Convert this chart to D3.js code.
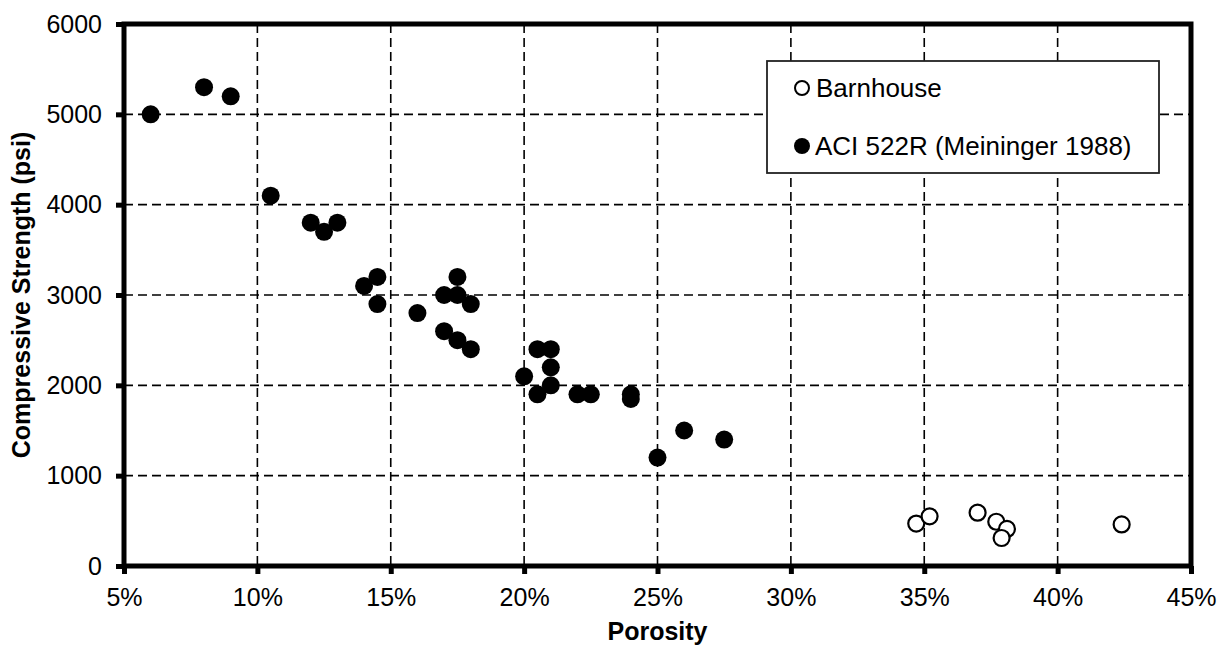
<!DOCTYPE html>
<html>
<head>
<meta charset="utf-8">
<script src="https://cdn.jsdelivr.net/npm/d3@7"></script>
<style>
  body { margin: 0; background: #fff; }
  svg { display: block; font-family: "Liberation Sans", Arial, sans-serif; }
</style>
</head>
<body>
<svg id="chart" width="1223" height="647"></svg>
<script>
// ---- Data ----
const xTicks = [0.05, 0.10, 0.15, 0.20, 0.25, 0.30, 0.35, 0.40, 0.45];
const yTicks = [0, 1000, 2000, 3000, 4000, 5000, 6000];

const barnhousePorosity = [0.347, 0.352, 0.370, 0.377, 0.381, 0.379, 0.424];
const barnhouseStrength = [470, 550, 590, 490, 410, 310, 460];

const aciPorosity = [0.06, 0.08, 0.09, 0.105, 0.12, 0.125, 0.13, 0.14, 0.145, 0.145,
                     0.16, 0.17, 0.175, 0.175, 0.18, 0.17, 0.175, 0.18, 0.20, 0.205,
                     0.21, 0.21, 0.21, 0.205, 0.22, 0.225, 0.24, 0.24, 0.25, 0.26, 0.275];
const aciStrength = [5000, 5300, 5200, 4100, 3800, 3700, 3800, 3100, 3200, 2900,
                     2800, 3000, 3200, 3000, 2900, 2600, 2500, 2400, 2100, 2400,
                     2400, 2200, 2000, 1900, 1900, 1900, 1900, 1850, 1200, 1500, 1400];

const seriesNames = ["Barnhouse", "ACI 522R (Meininger 1988)"];

// ---- Layout ----
const svg = d3.select("#chart");
const L = 124, R = 1191, T = 24, B = 566;

const x = d3.scaleLinear().domain([0.05, 0.45]).range([L, R]);
const y = d3.scaleLinear().domain([0, 6000]).range([B, T]);

// gridlines
const grid = svg.append("g");
grid.selectAll("line.v").data(xTicks.slice(1, -1)).join("line")
  .attr("x1", d => x(d)).attr("x2", d => x(d)).attr("y1", T).attr("y2", B)
  .attr("stroke", "#000").attr("stroke-width", 1.6).attr("stroke-dasharray", "9,5");
grid.selectAll("line.h").data(yTicks.slice(1, -1)).join("line")
  .attr("y1", d => y(d)).attr("y2", d => y(d)).attr("x1", L).attr("x2", R)
  .attr("stroke", "#000").attr("stroke-width", 1.6).attr("stroke-dasharray", "9,5");

// axes
const xAxis = d3.axisBottom(x).tickValues(xTicks).tickFormat(d3.format(".0%"))
  .tickSize(8).tickPadding(14);
const yAxis = d3.axisLeft(y).tickValues(yTicks).tickFormat(d3.format("d"))
  .tickSize(8).tickPadding(14);

const gx = svg.append("g").attr("transform", `translate(0,${B})`).call(xAxis);
const gy = svg.append("g").attr("transform", `translate(${L},0)`).call(yAxis);
[gx, gy].forEach(g => {
  g.select(".domain").remove();
  g.selectAll(".tick line").attr("stroke", "#000").attr("stroke-width", 5);
  g.selectAll(".tick text").attr("fill", "#000").attr("font-size", 25)
    .attr("font-family", "Liberation Sans, Arial, sans-serif");
});

// frame
svg.append("rect").attr("x", L).attr("y", T).attr("width", R - L).attr("height", B - T)
  .attr("fill", "none").attr("stroke", "#000").attr("stroke-width", 5);

// points
svg.append("g").selectAll("circle").data(aciPorosity.map((p, i) => [p, aciStrength[i]])).join("circle")
  .attr("cx", d => x(d[0])).attr("cy", d => y(d[1])).attr("r", 9).attr("fill", "#000");
svg.append("g").selectAll("circle").data(barnhousePorosity.map((p, i) => [p, barnhouseStrength[i]])).join("circle")
  .attr("cx", d => x(d[0])).attr("cy", d => y(d[1])).attr("r", 8)
  .attr("fill", "#fff").attr("stroke", "#000").attr("stroke-width", 2.2);

// axis titles
svg.append("text").attr("x", (L + R) / 2).attr("y", 640).attr("text-anchor", "middle")
  .attr("font-size", 25).attr("font-weight", "bold").text("Porosity");
svg.append("text").attr("transform", `translate(30,${(T + B) / 2}) rotate(-90)`)
  .attr("text-anchor", "middle").attr("font-size", 25).attr("font-weight", "bold")
  .text("Compressive Strength (psi)");

// legend
const lg = svg.append("g");
lg.append("rect").attr("x", 767).attr("y", 61).attr("width", 392).attr("height", 112)
  .attr("fill", "#fff").attr("stroke", "#222").attr("stroke-width", 1.8);
lg.append("circle").attr("cx", 802).attr("cy", 88).attr("r", 7)
  .attr("fill", "#fff").attr("stroke", "#000").attr("stroke-width", 2);
lg.append("circle").attr("cx", 802).attr("cy", 146).attr("r", 8).attr("fill", "#000");
lg.append("text").attr("x", 816).attr("y", 97).attr("font-size", 26).text(seriesNames[0]);
lg.append("text").attr("x", 815).attr("y", 155).attr("font-size", 26).text(seriesNames[1]);
</script>
</body>
</html>
